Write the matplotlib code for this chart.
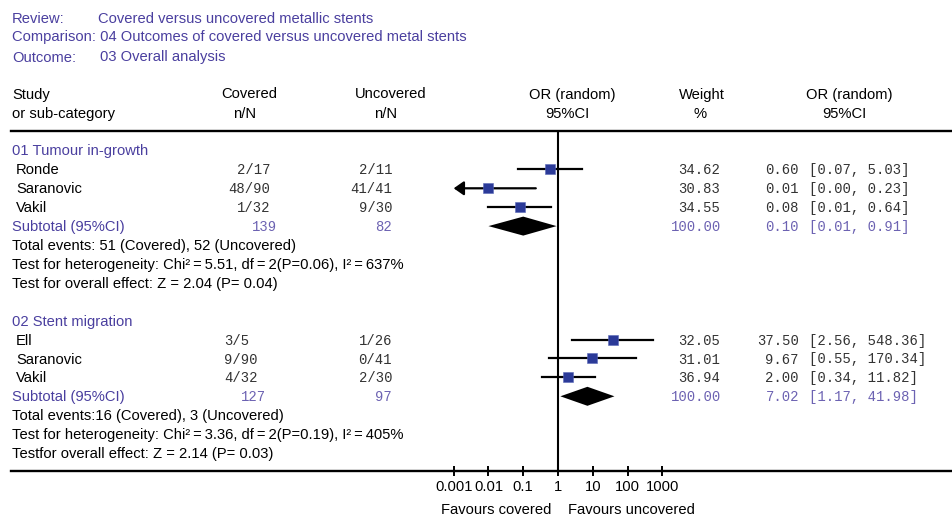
import numpy as np
import matplotlib.pyplot as plt
from matplotlib.ticker import NullLocator

plt.rcParams['font.family'] = ['Liberation Sans', 'DejaVu Sans']

# header texts
review = 'Covered versus uncovered metallic stents'
comparison = '04 Outcomes of covered versus uncovered metal stents'
outcome = '03 Overall analysis'

# per-section data
sec_titles = ['01 Tumour in-growth', '02 Stent migration']
studies = [['Ronde', 'Saranovic', 'Vakil'], ['Ell', 'Saranovic', 'Vakil']]
covered = [['2/17', '48/90', '1/32'], ['3/5', '9/90', '4/32']]
uncovered = [['2/11', '41/41', '9/30'], ['1/26', '0/41', '2/30']]
weights = [[34.62, 30.83, 34.55], [32.05, 31.01, 36.94]]
or_est = [[0.60, 0.01, 0.08], [37.50, 9.67, 2.00]]
or_lo = [[0.07, 0.00, 0.01], [2.56, 0.55, 0.34]]
or_hi = [[5.03, 0.23, 0.64], [548.36, 170.34, 11.82]]

sub_cov = [139, 127]
sub_unc = [82, 97]
sub_weight = [100.00, 100.00]
sub_est = [0.10, 7.02]
sub_lo = [0.01, 1.17]
sub_hi = [0.91, 41.98]

ts = '\u2009'  # thin space
events = ['Total events: 51 (Covered), 52 (Uncovered)',
          'Total events:16 (Covered), 3 (Uncovered)']
hetero = [f'Test for heterogeneity: Chi²{ts}={ts}5.51, df{ts}={ts}2(P=0.06), I²{ts}={ts}637%',
          f'Test for heterogeneity: Chi²{ts}={ts}3.36, df{ts}={ts}2(P=0.19), I²{ts}={ts}405%']
overall = ['Test for overall effect: Z = 2.04 (P= 0.04)',
           'Testfor overall effect: Z = 2.14 (P= 0.03)']

ticks = [0.001, 0.01, 0.1, 1, 10, 100, 1000]
tick_labels = ['0.001', '0.01', '0.1', '1', '10', '100', '1000']

blue = '#4a3f9f'
light_blue = '#6c62b2'
sq_col = '#2b3a98'
num_col = '#333333'
mono = 'Liberation Mono'
FS = 10.6

W, H = 952, 517
fig = plt.figure(figsize=(W / 100, H / 100), dpi=100)

# text layer in pixel coordinates
ax = fig.add_axes([0, 0, 1, 1])
ax.set_xlim(0, W)
ax.set_ylim(H, 0)
ax.axis('off')

# forest plot layer: log OR scale, 1 at x=558, ~34.8 px per decade
x0, x_one, dec = 11, 558, 34.77
y_top, y_bot = 130.8, 470.8
fax = fig.add_axes([x0 / W, 1 - y_bot / H, (W - x0) / W, (y_bot - y_top) / H])
fax.patch.set_visible(False)
fax.set_xscale('log')
fax.set_xlim(10 ** ((x0 - x_one) / dec), 10 ** ((W - x_one) / dec))
fax.set_ylim(y_bot, y_top)
for s in ['left', 'right']:
    fax.spines[s].set_visible(False)
for s in ['top', 'bottom']:
    fax.spines[s].set_linewidth(1.7)
fax.set_yticks([])
fax.set_xticks(ticks)
fax.set_xticklabels(tick_labels)
fax.xaxis.set_minor_locator(NullLocator())
fax.tick_params(axis='x', direction='inout', length=7, width=1.4, pad=3, labelsize=FS)
fax.axvline(1, color='k', lw=1.5)

# header
ax.text(12, 23, 'Review:', color=blue, fontsize=FS)
ax.text(98, 23, review, color=blue, fontsize=FS)
ax.text(12, 41.5, 'Comparison: ' + comparison, color=blue, fontsize=FS)
ax.text(12, 61.5, 'Outcome:', color=blue, fontsize=FS)
ax.text(100, 61.5, outcome, color=blue, fontsize=FS)

ax.text(12, 98.5, 'Study', fontsize=FS)
ax.text(12, 118, 'or sub-category', fontsize=FS)
for xc, l1, l2 in [(249.5, 'Covered', 'n/N'), (391, 'Uncovered', 'n/N'),
                   (572, 'OR (random)', '95%CI'), (702, 'Weight', '%'),
                   (849, 'OR (random)', '95%CI')]:
    ax.text(xc, 98.5, l1, fontsize=FS, ha='center')
    ax.text(xc - 5 if l2 != '%' else xc - 2, 118, l2, fontsize=FS, ha='center')

head_base = [155.5, 325.7]
step = 18.9
cov_x = [(270, 'right'), (224, 'left')]
sub_cov_x = [277, 266]

for k in range(2):
    b = head_base[k]
    ax.text(12, b, sec_titles[k], color=blue, fontsize=FS)
    for i, name in enumerate(studies[k]):
        yb = b + step * (i + 1)
        ym = yb - 5
        ax.text(16, yb, name, fontsize=FS)
        ax.text(cov_x[k][0], yb, covered[k][i], family=mono, fontsize=10,
                color=num_col, ha=cov_x[k][1])
        ax.text(392, yb, uncovered[k][i], family=mono, fontsize=10,
                color=num_col, ha='right')
        ax.text(720, yb, f'{weights[k][i]:.2f}', family=mono, fontsize=10,
                color=num_col, ha='right')
        ax.text(799, yb, f'{or_est[k][i]:.2f}', family=mono, fontsize=10,
                color=num_col, ha='right')
        ax.text(809, yb, f'[{or_lo[k][i]:.2f}, {or_hi[k][i]:.2f}]', family=mono,
                fontsize=10, color=num_col, ha='left')

        lo, hi = or_lo[k][i], or_hi[k][i]
        if lo < ticks[0]:
            fax.annotate('', xy=(ticks[0], ym), xytext=(hi, ym),
                         arrowprops=dict(arrowstyle='-|>,head_length=0.5,head_width=0.35',
                                         color='k', lw=1.6, mutation_scale=12,
                                         shrinkA=0, shrinkB=0))
        else:
            fax.plot([lo, hi], [ym, ym], color='k', lw=1.6)
        fax.plot(or_est[k][i], ym, marker='s', ms=6.8, color=sq_col,
                 markeredgecolor='#5a68b8', markeredgewidth=0.4, zorder=3)

    # subtotal row
    yb = b + step * 4
    ym = yb - 5
    ax.text(12, yb, 'Subtotal (95%CI)', color=blue, fontsize=FS)
    ax.text(sub_cov_x[k], yb, str(sub_cov[k]), family=mono, fontsize=10,
            color=light_blue, ha='right')
    ax.text(392, yb, str(sub_unc[k]), family=mono, fontsize=10,
            color=light_blue, ha='right')
    ax.text(721, yb, f'{sub_weight[k]:.2f}', family=mono, fontsize=10,
            color=light_blue, ha='right')
    ax.text(799, yb, f'{sub_est[k]:.2f}', family=mono, fontsize=10,
            color=light_blue, ha='right')
    ax.text(809, yb, f'[{sub_lo[k]:.2f}, {sub_hi[k]:.2f}]', family=mono,
            fontsize=10, color=light_blue, ha='left')
    fax.fill([sub_lo[k], sub_est[k], sub_hi[k], sub_est[k]],
             [ym, ym - 9.5, ym, ym + 9.5], color='k', lw=0, zorder=3)

    ax.text(12, b + step * 5, events[k], fontsize=FS)
    ax.text(12, b + step * 6, hetero[k], fontsize=FS)
    ax.text(12, b + step * 7, overall[k], fontsize=FS)

ax.text(551, 514, 'Favours covered', fontsize=FS, ha='right')
ax.text(568, 514, 'Favours uncovered', fontsize=FS, ha='left')

fig.savefig('out.png', dpi=100)
